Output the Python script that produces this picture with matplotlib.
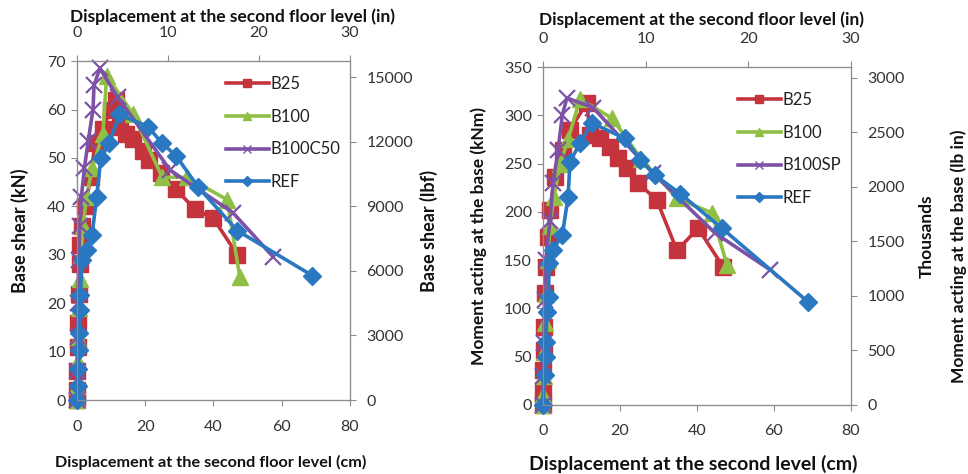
import matplotlib
matplotlib.use("Agg")
import matplotlib.pyplot as plt
from matplotlib.lines import Line2D

plt.rcParams['font.family'] = ['Lato', 'DejaVu Sans']

# ---- left panel: base shear (kN) vs displacement (cm)
shear_b25_x = [0, 0, 0.1, 0.2, 0.3, 0.5, 0.8, 1.0, 1.5, 2.5, 4.0, 5.3, 7.5, 10.0, 11.5, 12.5, 14.5, 16.5, 19.5, 21.0, 24.5, 29.0, 34.5, 40.0, 47.0]
shear_b25_y = [0, 2, 6, 11, 16, 22, 28, 32, 36, 40, 46, 53, 56, 60, 62, 56.5, 55, 54, 51.5, 49.5, 47, 43.5, 39.5, 37.5, 30]

shear_b100_x = [0, 0.1, 0.2, 0.4, 0.6, 0.9, 1.2, 1.8, 2.8, 4.5, 7.6, 8.7, 16.5, 25.0, 32.3, 44.0, 47.7]
shear_b100_y = [0, 3, 8, 13, 19, 25, 30, 36, 42, 48, 55, 67, 59, 46, 46, 41.4, 25.5]

shear_b100c50_x = [0, 0.1, 0.2, 0.3, 0.5, 0.8, 1.3, 2.2, 3.3, 4.7, 5.0, 6.7, 12.0, 27.3, 45.7, 57.5]
shear_b100c50_y = [0, 6, 13, 20, 29, 36, 42, 48, 53.5, 60, 65, 68.5, 62.5, 47.5, 38.7, 29.6]

shear_ref_x = [0, 0.2, 0.3, 0.5, 0.6, 0.8, 1.0, 1.5, 2.9, 4.4, 5.8, 7.0, 9.5, 12.4, 20.8, 25.0, 29.0, 35.5, 47.0, 69.0]
shear_ref_y = [0, 3, 6.5, 10.3, 13.8, 18.6, 21.7, 29, 31, 34, 42, 50, 53, 59, 56.5, 53, 50.5, 44, 35, 25.7]

# ---- right panel: base moment (kNm) vs displacement (cm)
mom_b25_x = [0, 0, 0.1, 0.2, 0.3, 0.5, 0.8, 1.2, 1.8, 3.0, 5.3, 7.0, 11.4, 12.2, 14.8, 17.4, 19.5, 21.8, 24.7, 29.6, 34.8, 40.3, 46.8]
mom_b25_y = [0, 15, 36, 57, 81, 116, 143, 174, 202, 236, 264, 285, 313, 280, 276, 267, 256, 245, 230, 212, 160, 183, 143]

mom_b100_x = [0, 0.1, 0.2, 0.3, 0.5, 0.8, 1.2, 1.8, 2.8, 4.5, 6.5, 9.6, 17.9, 25.5, 34.8, 43.9, 47.8]
mom_b100_y = [0, 10, 30, 55, 85, 115, 150, 185, 215, 250, 275, 317, 297, 255, 214, 199, 145]

mom_b100sp_x = [0, 0.1, 0.2, 0.4, 0.7, 1.8, 2.6, 3.9, 5.0, 6.2, 13.0, 28.6, 44.7, 59.0]
mom_b100sp_y = [0, 30, 64, 109, 150, 191, 230, 264, 300, 318, 308, 240, 178, 140]

mom_ref_x = [0, 0.5, 0.7, 0.7, 1.0, 1.5, 1.5, 2.5, 5.0, 6.5, 7.0, 9.6, 12.7, 21.3, 25.2, 29.1, 35.6, 46.5, 68.8]
mom_ref_y = [0, 31, 50, 65, 96, 112, 147, 160, 176, 215, 252, 271, 292, 276, 254, 238, 219, 183, 107]

KN_TO_LBF = 224.809
KNM_TO_KLBIN = 8.8507

red, green, purple, blue = '#c5333c', '#8fbf45', '#7d52a6', '#2a78c2'
spine_col = '#8c8c8c'
tick_col = '#333333'

fig = plt.figure(figsize=(9.68, 4.74), dpi=100)


def style(ax, pad=4):
    for s in ax.spines.values():
        s.set_color(spine_col)
    ax.tick_params(colors=spine_col, labelcolor=tick_col, labelsize=11.5, length=4, direction='out', pad=pad)


def panel(rect, series, ylim, yticks, y2max, y2ticks):
    ax = fig.add_axes(rect)
    for (x, y, c, m, ms, mew) in series:
        ax.plot(x, y, color=c, lw=2.6, marker=m, ms=ms, mew=mew, mec=c, mfc=c, clip_on=False)
    ax.set_xlim(0, 80)
    ax.set_ylim(*ylim)
    ax.set_xticks([0, 20, 40, 60, 80])
    ax.set_yticks(yticks)
    style(ax)
    ax.tick_params(axis='x', pad=10)
    ax_t = ax.twiny()
    ax_t.set_xlim(0, 30)
    ax_t.set_xticks([0, 10, 20, 30])
    style(ax_t, pad=11)
    ax_r = ax.twinx()
    ax_r.set_ylim(0, y2max)
    ax_r.set_yticks(y2ticks)
    style(ax_r, pad=8)
    return ax, ax_t, ax_r


left_series = [
    (shear_b25_x, shear_b25_y, red, 's', 11, 1),
    (shear_b100_x, shear_b100_y, green, '^', 11, 1),
    (shear_b100c50_x, shear_b100c50_y, purple, 'x', 12, 1.6),
    (shear_ref_x, shear_ref_y, blue, 'D', 9.5, 1),
]
right_series = [
    (mom_b25_x, mom_b25_y, red, 's', 11, 1),
    (mom_b100_x, mom_b100_y, green, '^', 11, 1),
    (mom_b100sp_x, mom_b100sp_y, purple, 'x', 12, 1.6),
    (mom_ref_x, mom_ref_y, blue, 'D', 9.5, 1),
]

axL, axLt, axLr = panel([0.0795, 0.156, 0.282, 0.715], left_series, (0, 70), range(0, 71, 10),
                        70 * KN_TO_LBF, range(0, 15001, 3000))
axR, axRt, axRr = panel([0.561, 0.1456, 0.318, 0.713], right_series, (0, 350), range(0, 351, 50),
                        350 * KNM_TO_KLBIN, range(0, 3001, 500))

lab = dict(fontweight='bold', color='#111111')
axL.set_ylabel('Base shear (kN)', labelpad=13, fontsize=13, **lab)
axL.set_xlabel('Displacement at the second floor level (cm)', fontsize=11.7, **lab)
axL.xaxis.set_label_coords(0.49, -0.162)
axLt.set_xlabel('Displacement at the second floor level (in)', fontsize=12.5, **lab)
axLt.xaxis.set_label_coords(0.568, 1.115)
axLr.set_ylabel('Base shear (lbf)', labelpad=5, fontsize=13, **lab)

axR.set_ylabel('Moment acting at the base (kNm)', labelpad=12, fontsize=12.5, **lab)
axR.set_xlabel('Displacement at the second level (cm)', fontsize=14, **lab)
axR.xaxis.set_label_coords(0.487, -0.148)
axRt.set_xlabel('Displacement at the second floor level (in)', fontsize=12.5, **lab)
axRt.xaxis.set_label_coords(0.516, 1.124)
axRr.set_ylabel('Thousands', labelpad=10, fontsize=12.5, **lab)
fig.text(0.99, 0.46, 'Moment acting at the base (lb in)', rotation=90, ha='center', va='center',
         fontsize=12.5, **lab)


def legend(ax, names, anchor):
    handles = [
        Line2D([], [], color=red, lw=2.6, marker='s', ms=6),
        Line2D([], [], color=green, lw=2.6, marker='^', ms=6),
        Line2D([], [], color=purple, lw=2.6, marker='x', ms=6, mew=1),
        Line2D([], [], color=blue, lw=2.6, marker='D', ms=5),
    ]
    ax.legend(handles, names, loc='upper left', bbox_to_anchor=anchor, frameon=False,
              fontsize=12, handlelength=2.6, handletextpad=0.1, labelspacing=1.0,
              labelcolor='#222222')


legend(axLr, ['B25', 'B100', 'B100C50', 'REF'], (0.49, 1.0))
legend(axRr, ['B25', 'B100', 'B100SP', 'REF'], (0.583, 0.97))

fig.savefig('out.png', dpi=100)
